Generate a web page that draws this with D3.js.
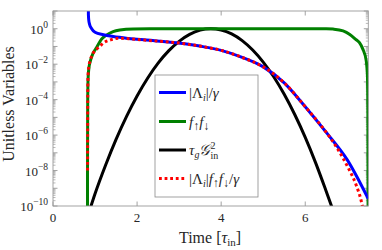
<!DOCTYPE html>
<html><head><meta charset="utf-8">
<script src="https://cdn.jsdelivr.net/npm/d3@7"></script>
<style>
body{margin:0;background:#fff}
svg{display:block}
</style>
</head><body>
<svg id="c" width="382" height="250"></svg>
<script>
// ---------- data (time in tau_in, values as log10 exponents) ----------
const xTickValues = [0, 2, 4, 6];
const yTickExps = [0, -2, -4, -6, -8, -10];
const legendLabels = ["lambda", "ff", "tauG", "lambdaff"];

const lambdaT   = [0.840, 0.842, 0.850, 0.870, 0.920, 1.00, 1.20, 1.43, 1.80, 2.22, 2.94, 3.49, 4.00, 4.50, 5.00, 5.50, 6.00, 6.50, 7.00, 7.50];
const lambdaLog = [1.60, 0.80, 0.50, 0.25, 0.00, -0.20, -0.34, -0.44, -0.55, -0.64, -0.79, -0.98, -1.22, -1.62, -2.15, -3.05, -4.40, -5.85, -7.40, -9.60];

const ffT   = [0.820, 0.822, 0.826, 0.835, 0.855, 0.880, 0.950, 1.04, 1.15, 1.27, 1.43, 1.59, 1.91, 2.30, 6.50, 6.66, 6.90, 7.06, 7.20, 7.29, 7.37, 7.45, 7.48, 7.49, 7.495];
const ffLog = [-10.5, -7.0, -4.0, -2.8, -2.2, -1.9, -1.4, -1.05, -0.60, -0.36, -0.16, -0.07, -0.01, 0.0, 0.0, -0.02, -0.12, -0.32, -0.60, -0.79, -1.15, -1.80, -2.70, -5.0, -10.5];

const gT   = [0.85, 1.00, 1.25, 1.50, 1.75, 2.00, 2.25, 2.50, 2.75, 3.00, 3.25, 3.50, 3.75, 4.00, 4.25, 4.50, 4.75, 5.00, 5.25, 5.50, 5.75, 6.00, 6.25, 6.50, 6.70];
const gLog = [-10.4, -9.31, -7.70, -6.24, -4.94, -3.79, -2.79, -1.94, -1.25, -0.71, -0.32, -0.08, 0.0, -0.07, -0.29, -0.67, -1.20, -1.88, -2.71, -3.70, -4.84, -6.13, -7.58, -9.18, -10.5];

const prodT   = [0.822, 0.826, 0.835, 0.855, 0.877, 0.950, 1.04, 1.11, 1.20, 1.35, 1.59, 1.80, 2.07, 2.22, 2.94, 3.49, 4.00, 4.50, 5.00, 5.50, 6.00, 6.50, 6.75, 7.00, 7.20, 7.33, 7.40];
const prodLog = [-8.0, -3.8, -2.6, -2.1, -1.86, -1.4, -1.15, -1.0, -0.80, -0.64, -0.54, -0.56, -0.62, -0.65, -0.79, -0.98, -1.22, -1.62, -2.15, -3.05, -4.40, -5.85, -6.70, -7.75, -8.75, -9.70, -10.5];

// ---------- layout ----------
const svg = d3.select("#c");
const FONT = "Liberation Serif";
const L = 53, R = 368.3, T = 11, B = 206;
const x = d3.scaleLinear().domain([0, 7.5]).range([L, R]);
const y = d3.scaleLog().domain([1e-10, 10]).range([B, T]);
const txtCol = "#262626";

svg.append("defs").append("clipPath").attr("id", "clip")
  .append("rect").attr("x", L).attr("y", T).attr("width", R - L).attr("height", B - T);

// ---------- ticks ----------
const tickCol = "#8a8a8a";
const gAx = svg.append("g");
for (let k = -10; k <= 1; k++) {
  const yy = y(Math.pow(10, k));
  [[L, 1], [R, -1]].forEach(([x0, s]) => {
    gAx.append("line").attr("x1", x0).attr("x2", x0 + s * 4.5).attr("y1", yy).attr("y2", yy)
      .attr("stroke", tickCol).attr("stroke-width", 0.8);
  });
  if (k < 1) {
    for (let mlt = 2; mlt <= 9; mlt++) {
      const ym = y(mlt * Math.pow(10, k));
      [[L, 1], [R, -1]].forEach(([x0, s]) => {
        gAx.append("line").attr("x1", x0).attr("x2", x0 + s * 2.5).attr("y1", ym).attr("y2", ym)
          .attr("stroke", tickCol).attr("stroke-width", 0.6);
      });
    }
  }
}
xTickValues.forEach(v => {
  const xx = x(v);
  gAx.append("line").attr("x1", xx).attr("x2", xx).attr("y1", B).attr("y2", B - 4.5).attr("stroke", tickCol).attr("stroke-width", 0.8);
  gAx.append("line").attr("x1", xx).attr("x2", xx).attr("y1", T).attr("y2", T + 4.5).attr("stroke", tickCol).attr("stroke-width", 0.8);
  svg.append("text").attr("x", xx).attr("y", 222).attr("text-anchor", "middle").attr("font-family", FONT)
    .attr("font-size", 13).attr("fill", txtCol).text(d3.format("d")(v));
});
yTickExps.forEach(e => {
  const t = svg.append("text").attr("x", 48).attr("y", y(Math.pow(10, e)) + 5).attr("font-family", FONT)
    .attr("text-anchor", "end").attr("font-size", 13).attr("fill", txtCol);
  t.append("tspan").text("10");
  t.append("tspan").attr("dy", -6).attr("font-size", 9.5).text(e === 0 ? "0" : "\u2212" + Math.abs(e));
});

// ---------- series ----------
const line = d3.line().x(d => x(d[0])).y(d => y(Math.pow(10, d[1]))).curve(d3.curveMonotoneX);
const zip = (a, b) => a.map((v, i) => [v, b[i]]);
const gS = svg.append("g").attr("clip-path", "url(#clip)");
gS.append("path").attr("d", line(zip(gT, gLog))).attr("fill", "none").attr("stroke", "#000").attr("stroke-width", 3);
gS.append("path").attr("d", line(zip(ffT, ffLog))).attr("fill", "none").attr("stroke", "#008000").attr("stroke-width", 3);
gS.append("path").attr("d", line(zip(lambdaT, lambdaLog))).attr("fill", "none").attr("stroke", "#0000ff").attr("stroke-width", 3);
gS.append("path").attr("d", line(zip(prodT, prodLog))).attr("fill", "none").attr("stroke", "#ff0000").attr("stroke-width", 3)
  .attr("stroke-dasharray", "2.8,2.8");

svg.append("rect").attr("x", L).attr("y", T).attr("width", R - L).attr("height", B - T)
  .attr("fill", "none").attr("stroke", "#9a9a9a").attr("stroke-width", 0.9);

// ---------- axis labels ----------
const xl = svg.append("text").attr("x", 210).attr("y", 243).attr("text-anchor", "middle").attr("font-family", FONT)
  .attr("font-size", 16).attr("fill", txtCol);
xl.append("tspan").text("Time [");
xl.append("tspan").attr("font-style", "italic").text("τ");
xl.append("tspan").attr("dy", 3).attr("font-size", 11).text("in");
xl.append("tspan").attr("dy", -3).text("]");

svg.append("text").attr("transform", "translate(14,104) rotate(-90)").attr("text-anchor", "middle").attr("font-family", FONT)
  .attr("font-size", 16).attr("fill", txtCol).text("Unitless Variables");

// ---------- legend ----------
const lg = svg.append("g");
lg.append("rect").attr("x", 155).attr("y", 75).attr("width", 103).attr("height", 122)
  .attr("fill", "#fff").attr("stroke", "#8a8a8a").attr("stroke-width", 0.8);
const rows = [
  {c: "#0000ff", dash: null, y: 92.5},
  {c: "#008000", dash: null, y: 121.5},
  {c: "#000", dash: null, y: 150},
  {c: "#ff0000", dash: "2.8,2.8", y: 178.5}
];
const AR = 12;
rows.forEach((r, i) => {
  const l = lg.append("line").attr("x1", 159).attr("x2", 186).attr("y1", r.y).attr("y2", r.y)
    .attr("stroke", r.c).attr("stroke-width", 3);
  if (r.dash) l.attr("stroke-dasharray", r.dash);
  const t = lg.append("text").attr("x", 189).attr("y", r.y + 5).attr("font-family", FONT)
    .attr("font-size", 15).attr("fill", txtCol);
  const key = legendLabels[i];
  if (key === "lambda") {
    t.append("tspan").text("|Λ");
    t.append("tspan").attr("dy", 3).attr("font-size", 10).attr("font-style", "italic").text("i");
    t.append("tspan").attr("dy", -3).text("|/");
    t.append("tspan").attr("font-style", "italic").text("γ");
  } else if (key === "ff") {
    t.append("tspan").attr("font-style", "italic").text("f");
    t.append("tspan").attr("dy", 3).attr("font-size", AR).text("↑");
    t.append("tspan").attr("dy", -3).attr("font-style", "italic").text("f");
    t.append("tspan").attr("dy", 3).attr("font-size", AR).text("↓");
  } else if (key === "tauG") {
    t.append("tspan").attr("font-style", "italic").text("τ");
    t.append("tspan").attr("dy", 3).attr("font-size", 10).attr("font-style", "italic").text("g");
    t.append("tspan").attr("dy", -3).attr("font-style", "italic").text("𝒢");
    t.append("tspan").attr("dy", -6).attr("font-size", 10).text("2");
    t.append("tspan").attr("dx", -5).attr("dy", 10).attr("font-size", 10).text("in");
  } else {
    t.append("tspan").text("|Λ");
    t.append("tspan").attr("dy", 3).attr("font-size", 10).attr("font-style", "italic").text("i");
    t.append("tspan").attr("dy", -3).text("|");
    t.append("tspan").attr("font-style", "italic").text("f");
    t.append("tspan").attr("dy", 3).attr("font-size", AR).text("↑");
    t.append("tspan").attr("dy", -3).attr("font-style", "italic").text("f");
    t.append("tspan").attr("dy", 3).attr("font-size", AR).text("↓");
    t.append("tspan").attr("dy", -3).text("/");
    t.append("tspan").attr("font-style", "italic").text("γ");
  }
});
</script>
</body></html>
